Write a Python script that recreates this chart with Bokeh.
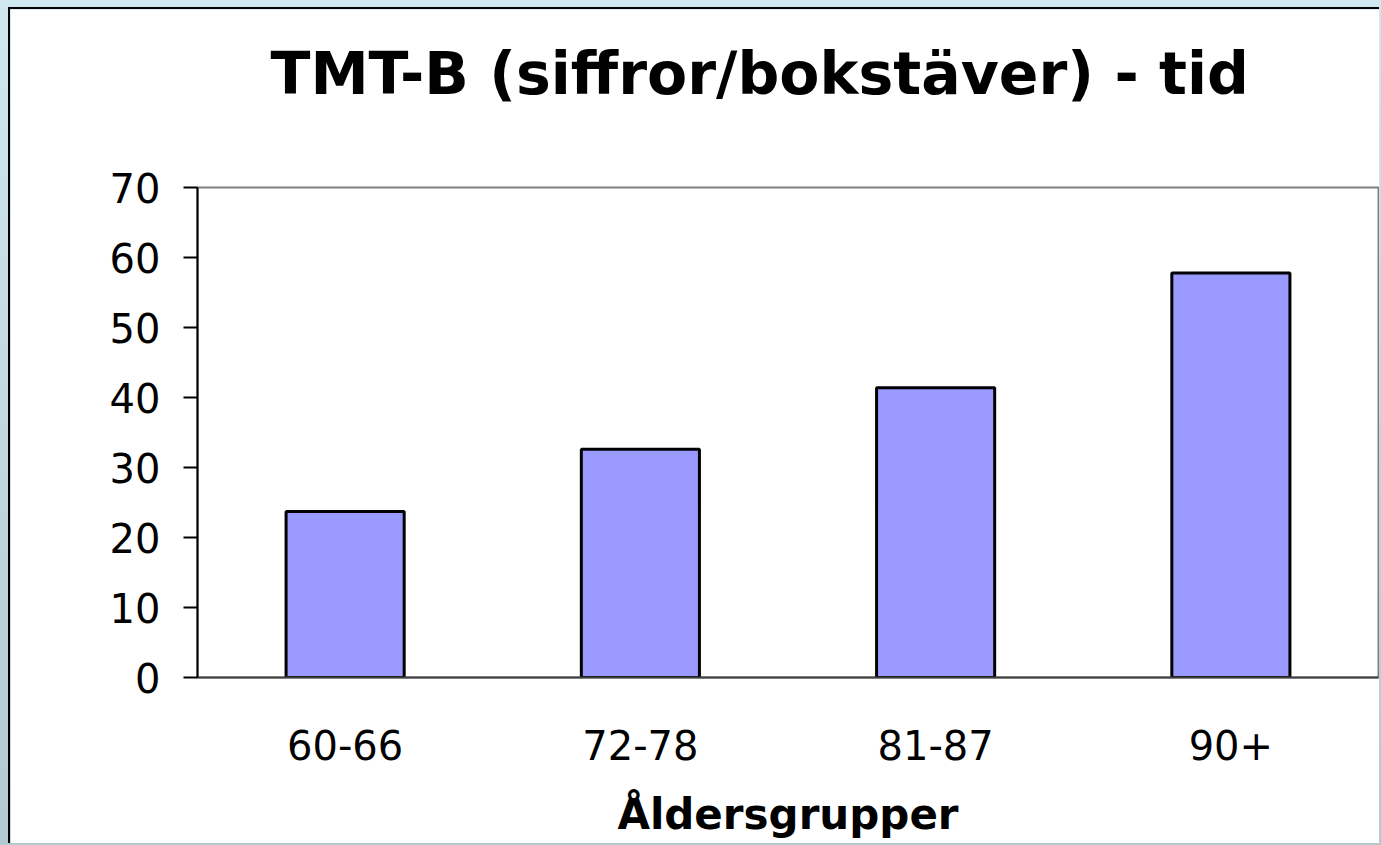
from bokeh.plotting import figure
from bokeh.models import ColumnDataSource, Title, FixedTicker
from bokeh.embed import file_html
from bokeh.resources import INLINE

categories = ["60-66", "72-78", "81-87", "90+"]
values = [23.7, 32.6, 41.4, 57.8]
y_ticks = [0, 10, 20, 30, 40, 50, 60, 70]
title_text = "TMT-B (siffror/bokstäver) - tid"

source = ColumnDataSource(dict(cat=categories, val=values))

p = figure(
    x_range=categories, y_range=(0, 70),
    width=1371, height=836,
    output_backend="svg", toolbar_location=None,
    min_border_left=187, min_border_right=3,
    min_border_top=178, min_border_bottom=168,
    background_fill_color="white", border_fill_color="white",
    styles={"border-left": "2px solid black", "border-top": "2px solid black"},
)
p.x_range.range_padding = 0

p.vbar(x="cat", top="val", width=0.4, source=source,
       fill_color="#9999ff", line_color="black", line_width=3)

# spacer between frame and title (closest to frame), then the title
spacer = Title(text=" ", text_font_size="10px", standoff=67, text_color="white")
p.add_layout(spacer, "above")
title = Title(text=title_text, align="left", offset=73, vertical_align="bottom",
              text_font="DejaVu Sans", text_font_size="58.5px", text_font_style="bold",
              text_color="black", standoff=0)
p.add_layout(title, "above")

p.xgrid.visible = False
p.ygrid.visible = False
p.outline_line_color = "#808080"
p.outline_line_width = 2

ya = p.yaxis[0]
ya.ticker = FixedTicker(ticks=y_ticks)
ya.major_label_text_font = "DejaVu Sans"
ya.major_label_text_font_size = "40px"
ya.major_label_text_color = "black"
ya.axis_line_color = "black"
ya.axis_line_width = 2
ya.major_tick_line_color = "black"
ya.major_tick_line_width = 2
ya.major_tick_out = 14
ya.major_tick_in = 0
ya.minor_tick_line_color = None
ya.major_label_standoff = 23

xa = p.xaxis[0]
xa.major_label_text_font = "DejaVu Sans"
xa.major_label_text_font_size = "40px"
xa.major_label_text_color = "black"
xa.axis_line_color = "#404040"
xa.axis_line_width = 2
xa.major_tick_line_color = None
xa.major_tick_out = 0
xa.major_tick_in = 0
xa.minor_tick_line_color = None
xa.major_label_standoff = 52
xa.axis_label = "Åldersgrupper"
xa.axis_label_text_font = "DejaVu Sans"
xa.axis_label_text_font_size = "42px"
xa.axis_label_text_font_style = "bold"
xa.axis_label_text_color = "black"
xa.axis_label_standoff = 27

html = file_html(p, INLINE)
html = html.replace("</head>",
    "<style>html,body{background:linear-gradient(#cfe7ef,#b3c9cf);min-height:100%;}"
    "body{margin:7px 0 0 8px;}</style></head>", 1)
open("out.html", "w").write(html)
